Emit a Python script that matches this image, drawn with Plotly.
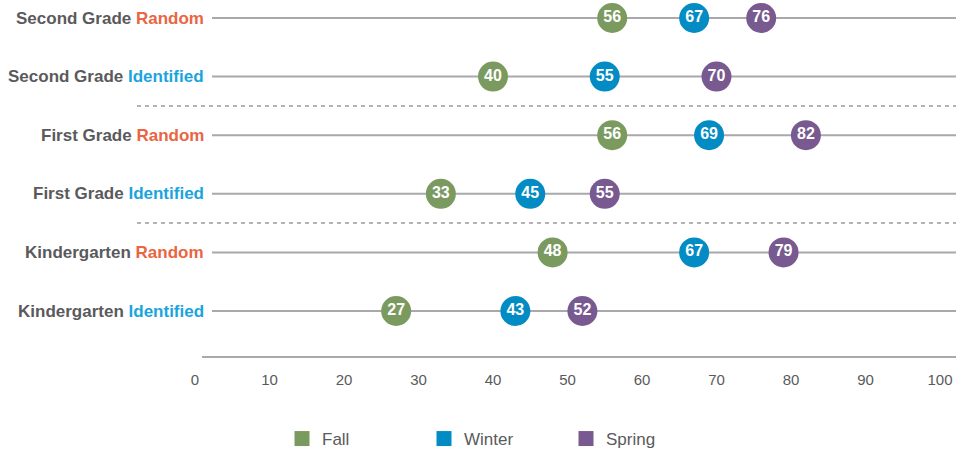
import plotly.graph_objects as go

grades = ["Kindergarten", "Kindergarten", "First Grade", "First Grade", "Second Grade", "Second Grade"]
groups = ["Identified", "Random", "Identified", "Random", "Identified", "Random"]
fall = [27, 48, 33, 56, 40, 56]
winter = [43, 67, 45, 69, 55, 67]
spring = [52, 79, 55, 82, 70, 76]
x_ticks = [0, 10, 20, 30, 40, 50, 60, 70, 80, 90, 100]

season_colors = {"Fall": "#7b9a5f", "Winter": "#038cc4", "Spring": "#785a91"}
group_colors = {"Random": "#ea6541", "Identified": "#1aa4de"}
gray_text = "#5a5a5c"
line_gray = "#a8a8ad"
font = "Liberation Sans, Arial, sans-serif"

rows = list(range(len(grades)))
W, H = 963, 451
ml, mr, mt, mb = 195, 7, 0, 94
PW = W - ml - mr
px_per_unit = 7.45
xmax = PW / px_per_unit

fig = go.Figure()

shapes = []
for r in rows:
    shapes.append(dict(type="line", xref="paper", yref="y", x0=(212 - ml) / PW, x1=1,
                       y0=r, y1=r, line=dict(color=line_gray, width=2), layer="below"))
for r in rows[:-1]:
    if grades[r] != grades[r + 1]:
        shapes.append(dict(type="line", xref="paper", yref="y", x0=(137 - ml) / PW, x1=1,
                           y0=r + 0.5, y1=r + 0.5, line=dict(color="#9a9a9e", width=1.5, dash="4px,4px"),
                           layer="below"))
shapes.append(dict(type="line", xref="paper", yref="paper", x0=(202 - ml) / PW, x1=1,
                   y0=0, y1=0, line=dict(color=line_gray, width=2)))

for name, vals in [("Fall", fall), ("Winter", winter), ("Spring", spring)]:
    fig.add_trace(go.Scatter(
        x=vals, y=rows, mode="markers+text", text=[str(v) for v in vals],
        textposition="middle center",
        textfont=dict(color="white", size=16, family=font, weight="bold"),
        marker=dict(size=30, color=season_colors[name]),
        showlegend=False, hoverinfo="skip", cliponaxis=False))
    fig.add_trace(go.Scatter(
        x=[None], y=[None], mode="markers", name=name,
        marker=dict(size=15, symbol="square", color=season_colors[name])))

annotations = []
for r in rows:
    annotations.append(dict(
        xref="paper", yref="y", x=(206 - ml) / PW, y=r, xanchor="right", yanchor="middle",
        showarrow=False,
        text=f"<b>{grades[r]} <span style='color:{group_colors[groups[r]]}'>{groups[r]}</span></b>",
        font=dict(size=17, color=gray_text, family=font)))

ymin = -(357 - 311) / 58.6
ymax = 5 + 18 / 58.6

fig.update_layout(
    width=W, height=H,
    margin=dict(l=ml, r=mr, t=mt, b=mb, autoexpand=False),
    plot_bgcolor="white", paper_bgcolor="white",
    shapes=shapes, annotations=annotations,
    xaxis=dict(range=[0, xmax], tickvals=x_ticks, ticktext=[str(t) for t in x_ticks],
               showgrid=False, zeroline=False, showline=False,
               tickfont=dict(size=15, color=gray_text, family=font),
               ticks="", ticklabelstandoff=12, fixedrange=True, automargin=False),
    yaxis=dict(range=[ymin, ymax], showticklabels=False, showgrid=False, zeroline=False,
               showline=False, ticks="", fixedrange=True, automargin=False),
    legend=dict(orientation="h", x=282 / W, xref="container", y=(451 - 439) / H, yref="container",
                xanchor="left", yanchor="middle",
                font=dict(size=17, color=gray_text, family=font),
                entrywidth=97, entrywidthmode="pixels", itemclick=False),
    showlegend=True,
)

fig.write_html("out.html", config={"displayModeBar": False},
               post_script="document.body.style.margin='0';document.body.style.overflow='hidden';")
